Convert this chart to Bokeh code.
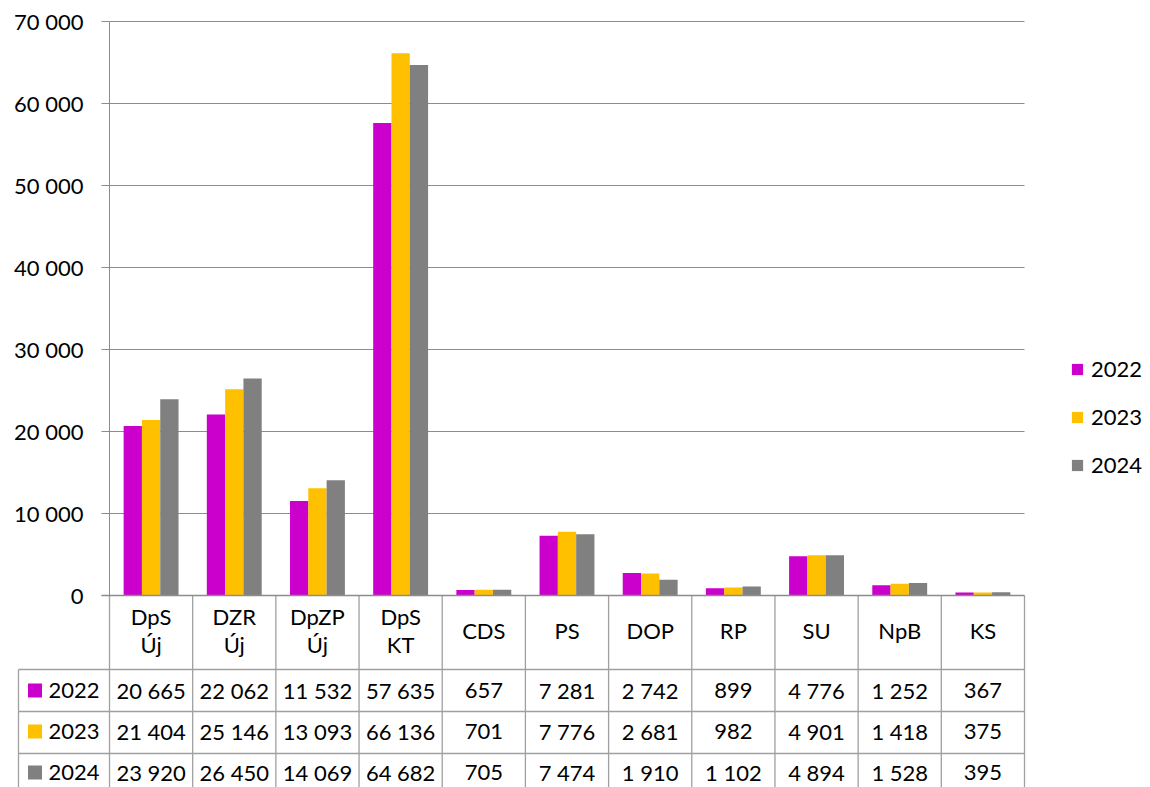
from bokeh.plotting import figure
from bokeh.models import Range1d, Legend, LegendItem, CustomJSTickFormatter, FixedTicker, ColumnDataSource
from bokeh.embed import file_html
from bokeh.resources import INLINE
from bokeh.core.properties import value

categories = ["DpS\nÚj", "DZR\nÚj", "DpZP\nÚj", "DpS\nKT", "CDS", "PS", "DOP", "RP", "SU", "NpB", "KS"]
years = ["2022", "2023", "2024"]
v2022 = [20665, 22062, 11532, 57635, 657, 7281, 2742, 899, 4776, 1252, 367]
v2023 = [21404, 25146, 13093, 66136, 701, 7776, 2681, 982, 4901, 1418, 375]
v2024 = [23920, 26450, 14069, 64682, 705, 7474, 1910, 1102, 4894, 1528, 395]
y_ticks = [0, 10000, 20000, 30000, 40000, 50000, 60000, 70000]
y_max = 70000

series = [v2022, v2023, v2024]
colors = ["#CC00CC", "#FFC000", "#808080"]
FONT = "Lato"
FS = "22px"
W = 1150
n = len(categories)
LC = "#a0a0a0"
GC = "#8c8c8c"

# ---------- chart ----------
frame_left = 109
frame_top = 20
frame_h = 575          # y_max sits 1px below the frame top
zero_y = frame_top + frame_h   # page y of value 0
ppu = 915 / n          # pixels per category
bottom_strip = 20
CH = frame_top + frame_h + bottom_strip

p = figure(width=W, height=CH, output_backend="svg", toolbar_location=None,
           x_range=Range1d(0, (W - frame_left) / ppu),
           y_range=Range1d(0, y_max * frame_h / (frame_h - 1)),
           min_border_left=frame_left, min_border_right=0,
           min_border_top=frame_top, min_border_bottom=bottom_strip)
p.outline_line_color = None
p.xaxis.visible = False
p.grid.visible = False
p.yaxis.ticker = FixedTicker(ticks=y_ticks)
p.yaxis.formatter = CustomJSTickFormatter(code="""
    const s = Math.round(tick).toString();
    return s.replace(/\\B(?=(\\d{3})+(?!\\d))/g, ' ');
""")
p.yaxis.axis_line_color = GC
p.yaxis.bounds = (0, y_max)
p.yaxis.major_tick_line_color = GC
p.yaxis.major_tick_in = 0
p.yaxis.major_tick_out = 8
p.yaxis.minor_tick_line_color = None
p.yaxis.major_label_text_font = FONT
p.yaxis.major_label_text_font_size = FS
p.yaxis.major_label_text_color = "#000000"
p.yaxis.major_label_standoff = 18

# horizontal gridlines, only across the category area
gl = [v for v in y_ticks if v > 0]
p.segment(x0=[0] * len(gl), y0=gl, x1=[n] * len(gl), y1=gl, line_color=GC, line_width=1)

bw = 0.22
offsets = [-bw, 0, bw]
xs = [i + 0.5 for i in range(n)]
items = []
for yr, vals, col, off in zip(years, series, colors, offsets):
    src = ColumnDataSource(dict(x=[x + off for x in xs], top=vals))
    r = p.vbar(x="x", top="top", width=bw, bottom=0, source=src,
               fill_color=col, line_color=None)
    items.append(LegendItem(label=yr, renderers=[r]))

legend = Legend(items=items, location=(961, 117), padding=0, margin=0,
                border_line_color=None, background_fill_alpha=0,
                glyph_width=14, glyph_height=14, label_standoff=7,
                spacing=21, label_text_font=FONT, label_text_font_size=FS,
                label_text_color="#000000", label_height=20)
p.add_layout(legend, "center")

# ---------- data table (overlaps the chart's bottom strip) ----------
top = zero_y - 2
TH = 787 - top
t = figure(width=W, height=TH, output_backend="svg", toolbar_location=None,
           x_range=Range1d(-frame_left / ppu, (W - frame_left) / ppu),
           y_range=Range1d(top + TH, top),
           min_border=0, min_border_left=0, min_border_right=0,
           min_border_top=0, min_border_bottom=0)
t.outline_line_color = None
t.background_fill_alpha = 0
t.border_fill_alpha = 0
t.axis.visible = False
t.grid.visible = False
t.styles = {"margin-top": f"-{CH - top}px"}

left_edge = (18 - frame_left) / ppu
hdr_b, r1_b, r2_b = 669, 711, 753
vx = list(range(n + 1))
t.segment(x0=vx, y0=[zero_y] * len(vx), x1=vx, y1=[820] * len(vx), line_color=LC, line_width=1.3)
t.segment(x0=[left_edge], y0=[hdr_b], x1=[left_edge], y1=[820], line_color=LC, line_width=1.3)
t.segment(x0=[left_edge] * 3, y0=[hdr_b, r1_b, r2_b], x1=[n] * 3, y1=[hdr_b, r1_b, r2_b],
          line_color=LC, line_width=1.3)
t.segment(x0=[-8 / ppu], y0=[zero_y], x1=[n], y1=[zero_y], line_color=GC, line_width=1.3)

t.text(x=xs, y=[630] * n, text=categories, text_align="center", text_baseline="middle",
       text_font=value(FONT), text_font_size=FS, text_color="#000000", text_line_height=1.07)

row_y = [690, 731, 772]
for yr, vals, col, ry in zip(years, series, colors, row_y):
    labels = [f"{v:,}".replace(",", " ") for v in vals]
    t.text(x=xs, y=[ry] * n, text=labels, text_align="center", text_baseline="middle",
           text_font=value(FONT), text_font_size=FS, text_color="#000000")
    t.scatter(x=[(34.5 - frame_left) / ppu], y=[ry], marker="square", size=14,
              fill_color=col, line_color=None)
    t.text(x=[(48 - frame_left) / ppu], y=[ry], text=[yr], text_align="left", text_baseline="middle",
           text_font=value(FONT), text_font_size=FS, text_color="#000000")

open("out.html", "w").write(file_html([p, t], INLINE))
